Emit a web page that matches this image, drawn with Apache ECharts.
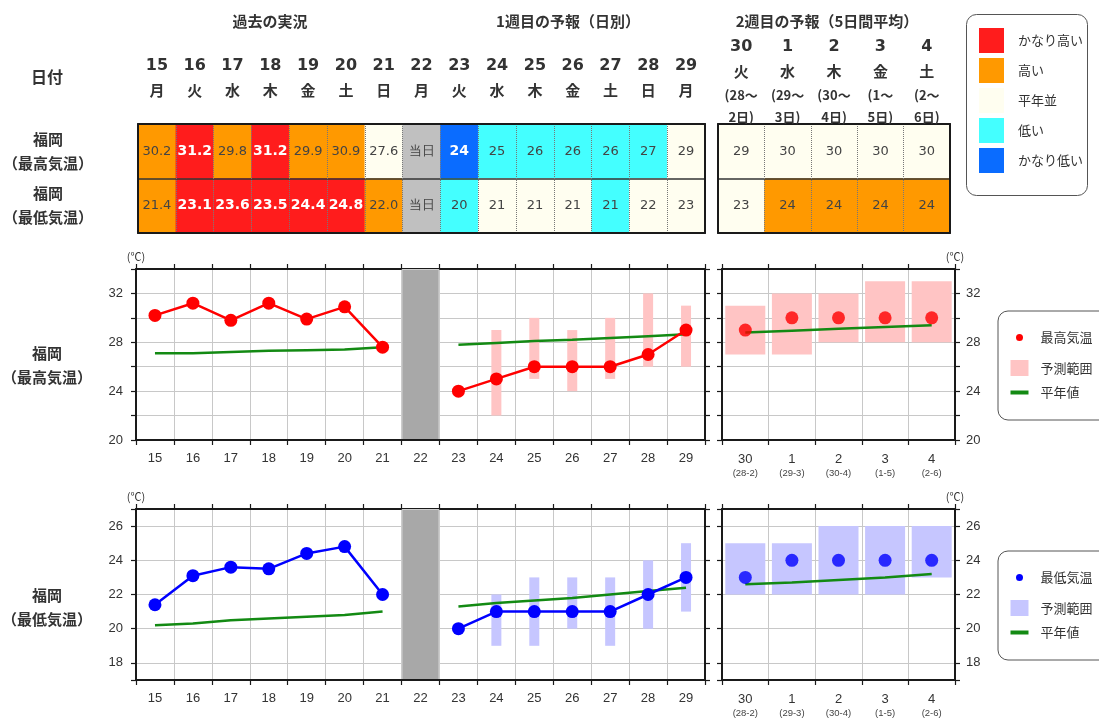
<!DOCTYPE html>
<html><head><meta charset="utf-8">
<script src="https://cdn.jsdelivr.net/npm/echarts@6/dist/echarts.min.js"></script>
<style>html,body{margin:0;padding:0;background:#fff}#c{width:1099px;height:721px}</style>
</head><body><div id="c"></div>
<script>
// ---------- data ----------
const days = ['15','16','17','18','19','20','21','22','23','24','25','26','27','28','29'];
const weekdays = ['月','火','水','木','金','土','日','月','火','水','木','金','土','日','月'];
const todayIndex = 7;
const todayLabel = '当日';
const rowLabels = ['福岡\n（最高気温）', '福岡\n（最低気温）'];

const obsMax = [30.2, 31.2, 29.8, 31.2, 29.9, 30.9, 27.6];
const fcstMax = [24, 25, 26, 26, 26, 27, 29];
const fcstMaxLow = [null, 22, 25, 24, 25, 26, 26];
const fcstMaxHigh = [null, 29, 30, 29, 30, 32, 31];
const normalMaxObs = [27.1, 27.1, 27.2, 27.3, 27.35, 27.4, 27.6];
const normalMaxFcst = [27.8, 27.95, 28.1, 28.2, 28.35, 28.5, 28.65];

const obsMin = [21.4, 23.1, 23.6, 23.5, 24.4, 24.8, 22.0];
const fcstMin = [20, 21, 21, 21, 21, 22, 23];
const fcstMinLow = [null, 19, 19, 20, 19, 20, 21];
const fcstMinHigh = [null, 22, 23, 23, 23, 24, 25];
const normalMinObs = [20.2, 20.3, 20.5, 20.6, 20.7, 20.8, 21.0];
const normalMinFcst = [21.3, 21.5, 21.65, 21.8, 22.0, 22.2, 22.4];

const week2Days = ['30','1','2','3','4'];
const week2Weekdays = ['火','水','木','金','土'];
const week2PeriodStart = ['(28～','(29～','(30～','(1～','(2～'];
const week2PeriodEnd = ['2日)','3日)','4日)','5日)','6日)'];
const week2Span = ['(28-2)','(29-3)','(30-4)','(1-5)','(2-6)'];
const week2Max = [29, 30, 30, 30, 30];
const week2MaxLow = [27, 27, 28, 28, 28];
const week2MaxHigh = [31, 32, 32, 33, 33];
const week2NormalMax = [28.8, 28.95, 29.1, 29.25, 29.4];
const week2Min = [23, 24, 24, 24, 24];
const week2MinLow = [22, 22, 22, 22, 23];
const week2MinHigh = [25, 25, 26, 26, 26];
const week2NormalMin = [22.6, 22.7, 22.85, 23.0, 23.2];

// class: 0 かなり低い, 1 低い, 2 平年並, 3 高い, 4 かなり高い, -1 当日
const classMax = [3, 4, 3, 4, 3, 3, 2, -1, 0, 1, 1, 1, 1, 1, 2];
const classMin = [3, 4, 4, 4, 4, 4, 3, -1, 1, 2, 2, 2, 1, 2, 2];
const week2ClassMax = [2, 2, 2, 2, 2];
const week2ClassMin = [2, 3, 3, 3, 3];
const classNames = ['かなり低い', '低い', '平年並', '高い', 'かなり高い'];
const classColors = ['#0a6cff', '#44ffff', '#fffef0', '#ff9900', '#ff1c1c'];

const maxTicks = [20, 22, 24, 26, 28, 30, 32, 34];
const maxLabels = [20, 24, 28, 32];
const minTicks = [17, 18, 20, 22, 24, 26, 27];
const minLabels = [18, 20, 22, 24, 26];

// ---------- helpers ----------
const pad = n => Array(n).fill(null);
const NUM_FONT = 'Liberation Sans';
const CJK = 'Noto Sans CJK JP';
const TXT = '#333';
const AX = '#1a1a1a';

const maxLine = obsMax.concat([null], fcstMax);
const maxNormal = normalMaxObs.concat([null], normalMaxFcst);
const maxLow = pad(8).concat(fcstMaxLow);
const maxSpan = pad(8).concat(fcstMaxHigh.map((h, i) => h == null ? null : h - fcstMaxLow[i]));
const minLine = obsMin.concat([null], fcstMin);
const minNormal = normalMinObs.concat([null], normalMinFcst);
const minLow = pad(8).concat(fcstMinLow);
const minSpan = pad(8).concat(fcstMinHigh.map((h, i) => h == null ? null : h - fcstMinLow[i]));
const w2MaxSpan = week2MaxHigh.map((h, i) => h - week2MaxLow[i]);
const w2MinSpan = week2MinHigh.map((h, i) => h - week2MinLow[i]);

const textMaxLeft = obsMax.map(v => v.toFixed(1)).concat([todayLabel], fcstMax.map(String));
const textMinLeft = obsMin.map(v => v.toFixed(1)).concat([todayLabel], fcstMin.map(String));
const textMaxRight = week2Max.map(String);
const textMinRight = week2Min.map(String);

function cellData(clsRows) {
  const out = [];
  clsRows.forEach((row, r) => row.forEach((c, i) => {
    const strong = c === 4 || c === 0;
    out.push({
      value: [i, r, c],
      label: strong ? { color: '#fff', fontWeight: 'bold', fontSize: 14 } : { color: '#444', fontWeight: 'normal', fontSize: 13 }
    });
  }));
  return out;
}

const lineAxis = { lineStyle: { color: AX, width: 2 } };
const gridLine = { show: true, lineStyle: { color: '#c8c8c8', width: 1 } };
const vSplit = { show: true, interval: 0, lineStyle: { color: '#c8c8c8', width: 1 } };

function catAxis(grid, data, pos, extra) {
  return Object.assign({
    type: 'category', gridIndex: grid, data: data, position: pos, boundaryGap: true, z: 10,
    axisLine: lineAxis,
    axisTick: { show: true, interval: 0, length: 5, inside: false, lineStyle: { color: AX, width: 1.2 } },
    axisLabel: { show: false },
    splitLine: { show: false }
  }, extra || {});
}
function valAxis(grid, min, max, ticks, labels, pos, showLabel, showSplit, name) {
  const a = {
    type: 'value', gridIndex: grid, min: min, max: max, position: pos, z: showSplit ? 0 : 10,
    axisLine: { show: true, lineStyle: { color: AX, width: 2 } },
    axisTick: { show: true, length: 5, customValues: ticks, lineStyle: { color: AX, width: 1.2 } },
    axisLabel: showLabel ? { show: true, customValues: labels, fontSize: 13, color: TXT, fontFamily: NUM_FONT, margin: pos === 'left' ? 13 : 11 } : { show: false },
    splitLine: showSplit ? gridLine : { show: false }
  };
  if (name) {
    a.name = name; a.nameLocation = 'end'; a.nameGap = 7;
    a.nameTextStyle = { fontSize: 11, color: TXT, fontFamily: CJK, align: 'center' };
  }
  return a;
}
const chartXLabel = { show: true, interval: 0, fontSize: 13, color: TXT, fontFamily: NUM_FONT, margin: 12 };
const w2Label = Object.assign({}, chartXLabel, {
  formatter: (v, i) => '{m|' + v + '}\n{s|' + week2Span[i] + '}',
  rich: { m: { fontSize: 13, lineHeight: 15, color: TXT, fontFamily: NUM_FONT }, s: { fontSize: 9.5, lineHeight: 12, color: '#444', fontFamily: NUM_FONT } }
});

const grids = [
  { left: 137, top: 124, width: 568, height: 109 },
  { left: 718, top: 124, width: 232, height: 109 },
  { left: 136, top: 269, width: 569, height: 171 },
  { left: 722, top: 269, width: 233, height: 171 },
  { left: 136, top: 509, width: 569, height: 171 },
  { left: 722, top: 509, width: 233, height: 171 }
];

const tableSplit = { show: true, interval: 0, lineStyle: { color: '#777', width: 1, type: 'dotted' } };
const xAxes = [
  catAxis(0, days, 'top', {
    axisTick: { show: false }, splitLine: tableSplit,
    axisLabel: {
      show: true, interval: 0, margin: 21,
      formatter: (v, i) => '{d|' + v + '}\n{w|' + weekdays[i] + '}',
      rich: {
        d: { fontSize: 16, fontWeight: 'bold', fontFamily: 'DejaVu Sans', lineHeight: 25, color: TXT },
        w: { fontSize: 15, fontWeight: 'bold', fontFamily: CJK, lineHeight: 25, color: TXT }
      }
    }
  }),
  catAxis(0, days, 'bottom', { axisTick: { show: false } }),
  catAxis(1, week2Days, 'top', {
    axisTick: { show: false }, splitLine: tableSplit,
    axisLabel: {
      show: true, interval: 0, margin: -4,
      formatter: (v, i) => '{d|' + v + '}\n{w|' + week2Weekdays[i] + '}\n{s|' + week2PeriodStart[i] + '}\n{s|' + week2PeriodEnd[i] + '}',
      rich: {
        d: { fontSize: 16, fontWeight: 'bold', fontFamily: 'DejaVu Sans', lineHeight: 25, color: TXT },
        w: { fontSize: 15, fontWeight: 'bold', fontFamily: CJK, lineHeight: 25, color: TXT },
        s: { fontSize: 13, fontWeight: 'bold', fontFamily: CJK, lineHeight: 22, color: TXT }
      }
    }
  }),
  catAxis(1, week2Days, 'bottom', { axisTick: { show: false } }),
  catAxis(2, days, 'bottom', { axisLabel: chartXLabel }),
  catAxis(2, days, 'top', { z: 0, splitLine: vSplit }),
  catAxis(3, week2Days, 'bottom', { axisLabel: w2Label }),
  catAxis(3, week2Days, 'top', { z: 0, splitLine: vSplit }),
  catAxis(4, days, 'bottom', { axisLabel: chartXLabel }),
  catAxis(4, days, 'top', { z: 0, splitLine: vSplit }),
  catAxis(5, week2Days, 'bottom', { axisLabel: w2Label }),
  catAxis(5, week2Days, 'top', { z: 0, splitLine: vSplit })
];

const yAxes = [
  {
    type: 'category', gridIndex: 0, data: rowLabels, inverse: true, position: 'left', z: 10,
    axisLine: lineAxis, axisTick: { show: false },
    splitLine: { show: true, lineStyle: { color: '#333', width: 1.5 } },
    axisLabel: { show: true, align: 'center', margin: 90, fontSize: 15, fontWeight: 'bold', lineHeight: 24, color: TXT, fontFamily: CJK }
  },
  { type: 'category', gridIndex: 0, data: rowLabels, inverse: true, position: 'right', z: 10, axisLine: lineAxis, axisTick: { show: false }, axisLabel: { show: false } },
  { type: 'category', gridIndex: 1, data: rowLabels, inverse: true, position: 'left', z: 10, axisLine: lineAxis, axisTick: { show: false }, axisLabel: { show: false },
    splitLine: { show: true, lineStyle: { color: '#333', width: 1.5 } } },
  { type: 'category', gridIndex: 1, data: rowLabels, inverse: true, position: 'right', z: 10, axisLine: lineAxis, axisTick: { show: false }, axisLabel: { show: false } },
  valAxis(2, 20, 34, maxTicks, maxLabels, 'left', true, false, '(℃)'),
  valAxis(2, 20, 34, maxTicks, maxLabels, 'right', false, true),
  valAxis(3, 20, 34, maxTicks, maxLabels, 'left', false, true),
  valAxis(3, 20, 34, maxTicks, maxLabels, 'right', true, false, '(℃)'),
  valAxis(4, 17, 27, minTicks, minLabels, 'left', true, false, '(℃)'),
  valAxis(4, 17, 27, minTicks, minLabels, 'right', false, true),
  valAxis(5, 17, 27, minTicks, minLabels, 'left', false, true),
  valAxis(5, 17, 27, minTicks, minLabels, 'right', true, false, '(℃)')
];

const cellLabel = { show: true, fontFamily: 'DejaVu Sans', fontSize: 13, color: '#444' };
const RED = '#ff0000', BLUE = '#0000ff', GREEN = '#138a13';
const PINK = '#ffc4c4', LAV = '#c6c6ff', BAND = '#a8a8a8';

function chartSeries(xB, xT, yL, line, normal, low, span, tempName, color, rangeColor, axisMax) {
  return [
    { type: 'bar', name: 'band', xAxisIndex: xT, yAxisIndex: yL, barWidth: '100%', silent: true, z: 1,
      itemStyle: { color: BAND, borderColor: '#cfcfcf', borderWidth: 1 },
      data: days.map((d, i) => i === todayIndex ? axisMax : null) },
    { type: 'bar', name: 'base', xAxisIndex: xB, yAxisIndex: yL, stack: 'r' + xB, barWidth: 10, silent: true, z: 2,
      itemStyle: { color: 'rgba(0,0,0,0)' }, data: low },
    { type: 'bar', name: '予測範囲', xAxisIndex: xB, yAxisIndex: yL, stack: 'r' + xB, barWidth: 10, silent: true, z: 2,
      itemStyle: { color: rangeColor }, data: span },
    { type: 'line', name: '平年値', xAxisIndex: xB, yAxisIndex: yL, symbol: 'none', z: 3, silent: true,
      lineStyle: { color: GREEN, width: 2.5 }, itemStyle: { color: GREEN }, data: normal },
    { type: 'line', name: tempName, xAxisIndex: xB, yAxisIndex: yL, symbol: 'circle', symbolSize: 13, showSymbol: true, z: 4, silent: true,
      lineStyle: { color: color, width: 2.5 }, itemStyle: { color: color }, data: line }
  ];
}
function weekSeries(xB, yL, vals, normal, low, span, tempName, color, rangeColor) {
  return [
    { type: 'bar', name: 'base', xAxisIndex: xB, yAxisIndex: yL, stack: 'w' + xB, barWidth: 40, silent: true, z: 2,
      itemStyle: { color: 'rgba(0,0,0,0)' }, data: low },
    { type: 'bar', name: '予測範囲', xAxisIndex: xB, yAxisIndex: yL, stack: 'w' + xB, barWidth: 40, silent: true, z: 2,
      itemStyle: { color: rangeColor }, data: span },
    { type: 'line', name: '平年値', xAxisIndex: xB, yAxisIndex: yL, symbol: 'none', z: 3, silent: true,
      lineStyle: { color: GREEN, width: 2.5 }, itemStyle: { color: GREEN }, data: normal },
    { type: 'scatter', name: tempName, xAxisIndex: xB, yAxisIndex: yL, symbol: 'circle', symbolSize: 13, z: 4, silent: true,
      itemStyle: { color: color }, data: vals }
  ];
}

const series = [
  { type: 'heatmap', name: 'tableLeft', xAxisIndex: 0, yAxisIndex: 0, silent: true,
    label: Object.assign({}, cellLabel, { formatter: p => [textMaxLeft, textMinLeft][p.value[1]][p.value[0]] }),
    data: cellData([classMax, classMin]) },
  { type: 'heatmap', name: 'tableRight', xAxisIndex: 2, yAxisIndex: 2, silent: true,
    label: Object.assign({}, cellLabel, { formatter: p => [textMaxRight, textMinRight][p.value[1]][p.value[0]] }),
    data: cellData([week2ClassMax, week2ClassMin]) }
].concat(
  chartSeries(4, 5, 4, maxLine, maxNormal, maxLow, maxSpan, '最高気温', RED, PINK, 34),
  weekSeries(6, 7, week2Max, week2NormalMax, week2MaxLow, w2MaxSpan, '最高気温', RED, PINK),
  chartSeries(8, 9, 8, minLine, minNormal, minLow, minSpan, '最低気温', BLUE, LAV, 27),
  weekSeries(10, 11, week2Min, week2NormalMin, week2MinLow, w2MinSpan, '最低気温', BLUE, LAV)
);

function legendFor(top, tempName, color, rangeColor) {
  return {
    orient: 'vertical', left: 998, top: top, padding: [14, 30, 21, 9], itemGap: 10,
    itemWidth: 18, itemHeight: 16, borderColor: '#555', borderWidth: 1, borderRadius: 10,
    backgroundColor: '#fff', selectedMode: false, symbolKeepAspect: true,
    textStyle: { fontSize: 13, color: TXT, fontFamily: CJK, padding: [0, 0, 0, 7] },
    data: [
      { name: tempName, icon: 'circle', itemStyle: { color: color, borderColor: '#fff', borderWidth: 9 } },
      { name: '予測範囲', icon: 'rect', itemStyle: { color: rangeColor, borderWidth: 0 } },
      { name: '平年値', icon: 'path://M0,0H18V4H0Z', itemStyle: { color: GREEN, borderWidth: 0 } }
    ]
  };
}

const textEl = (x, y, text, size, extra) => ({
  type: 'text', x: x, y: y, silent: true,
  style: Object.assign({ text: text, align: 'center', verticalAlign: 'middle', fontSize: size, fontWeight: 'bold', fontFamily: CJK, fill: TXT }, extra || {})
});

const option = {
  backgroundColor: '#fff',
  animation: false,
  textStyle: { fontFamily: CJK },
  grid: grids,
  xAxis: xAxes,
  yAxis: yAxes,
  visualMap: {
    type: 'piecewise', seriesIndex: [0, 1], dimension: 2, orient: 'vertical', align: 'left',
    left: 979, top: 28, itemWidth: 25, itemHeight: 25, itemGap: 5, textGap: 14, itemSymbol: 'rect',
    selectedMode: false, hoverLink: false, padding: 0,
    textStyle: { fontSize: 13, color: TXT, fontFamily: CJK },
    pieces: classNames.map((n, i) => ({ value: i, label: n, color: classColors[i] })),
    outOfRange: { color: '#c0c0c0' }
  },
  legend: [legendFor(311, '最高気温', RED, PINK), legendFor(551, '最低気温', BLUE, LAV)],
  graphic: [
    { type: 'rect', left: 966, top: 14, silent: true, z: -1, shape: { width: 121, height: 181, r: 10 }, style: { fill: '#fff', stroke: '#555', lineWidth: 1 } },
    textEl(270, 21, '過去の実況', 15),
    textEl(568, 21, '1週目の予報（日別）', 15),
    textEl(827, 21, '2週目の予報（5日間平均）', 15),
    textEl(47, 77, '日付', 16),
    textEl(47, 365, '福岡\n（最高気温）', 15, { lineHeight: 24 }),
    textEl(47, 607, '福岡\n（最低気温）', 15, { lineHeight: 24 })
  ],
  series: series
};

const chart = echarts.init(document.getElementById('c'), null, { renderer: 'canvas' });
chart.setOption(option);
</script></body></html>
